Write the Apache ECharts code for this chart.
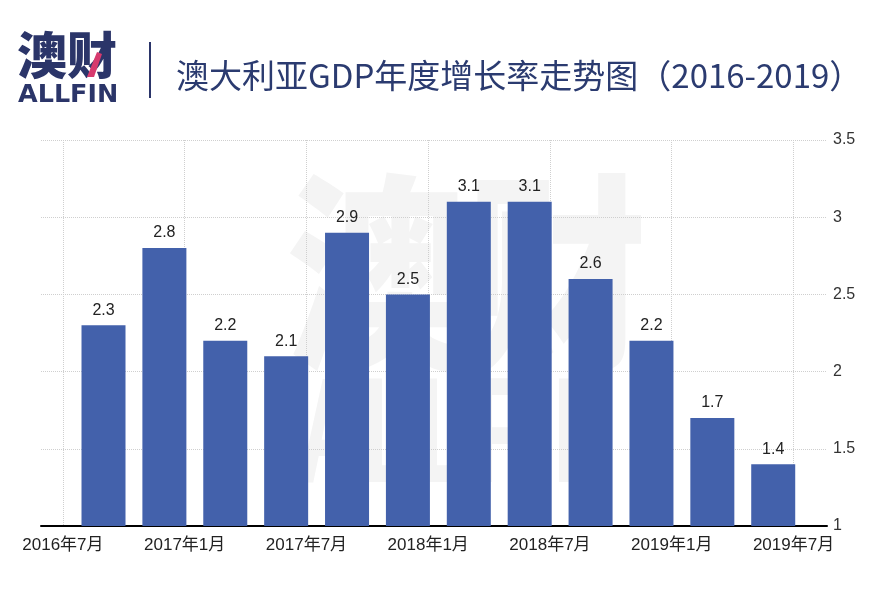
<!DOCTYPE html>
<html><head><meta charset="utf-8">
<script src="https://cdn.jsdelivr.net/npm/echarts@6/dist/echarts.min.js"></script>
<style>html,body{margin:0;padding:0;background:#fff}#c{width:886px;height:609px}</style>
</head><body><div id="c"></div>
<script>
// Data
const quarters = ['2016-09','2016-12','2017-03','2017-06','2017-09','2017-12','2018-03','2018-06','2018-09','2018-12','2019-03','2019-06'];
const growth = [2.3, 2.8, 2.2, 2.1, 2.9, 2.5, 3.1, 3.1, 2.6, 2.2, 1.7, 1.4];
const tickMonths = ['2016-07','2017-01','2017-07','2018-01','2018-07','2019-01','2019-07'];
const titleText = '澳大利亚GDP年度增长率走势图（2016-2019）';

const FONT = "'Liberation Sans','Noto Sans CJK SC',sans-serif";
const NAVY = '#2b3569';
function monthIndex(s){ const p = s.split('-'); return (+p[0]-2016)*12 + (+p[1]-7); }
function monthLabel(v){ const y = 2016 + Math.floor((v+6)/12); const m = ((v+6)%12+12)%12+1; return y+'年'+m+'月'; }
const tickIdx = tickMonths.map(monthIndex);
const barData = quarters.map((q,i)=>[monthIndex(q), growth[i]]);

const chart = echarts.init(document.getElementById('c'), null, {renderer:'canvas'});
chart.setOption({
  animation:false,
  backgroundColor:'#fff',
  title:{text:titleText,left:171,top:54,textStyle:{fontFamily:"'Noto Sans CJK SC',sans-serif",fontSize:33,fontWeight:'normal',color:'#2b3b70'}},
  grid:{left:41,right:59,top:140,bottom:83,containLabel:false},
  xAxis:{type:'value',min:-1.08,max:37.65,
    axisLine:{show:true,onZero:false,lineStyle:{color:'#000',width:2}},
    axisTick:{show:false,customValues:tickIdx},
    axisLabel:{customValues:tickIdx,formatter:monthLabel,fontFamily:FONT,fontSize:17,color:'#222',margin:11},
    splitLine:{show:true,lineStyle:{type:'dotted',color:'#cfcfcf',width:1}}
  },
  yAxis:{type:'value',position:'right',min:1,max:3.5,interval:0.5,
    axisLine:{show:false},axisTick:{show:false},
    axisLabel:{fontFamily:FONT,fontSize:16,color:'#333',margin:6},
    splitLine:{show:true,lineStyle:{type:'dotted',color:'#cfcfcf',width:1}}
  },
  graphic:[
    {type:'text',left:286,top:168,z:-1,silent:true,scaleX:0.86,style:{text:'澳财',fontSize:210,fontWeight:900,fontFamily:"'Noto Sans CJK SC',sans-serif",fill:'#f4f4f4'}},
    {type:'text',left:298,top:366,z:-1,silent:true,scaleX:0.6,style:{text:'ALLFIN',fontSize:150,fontWeight:'bold',fontFamily:"'Liberation Sans',sans-serif",fill:'#f4f4f4'}},
    {type:'text',left:17,top:30,style:{text:'澳财',fontSize:50,fontWeight:900,fontFamily:"'Noto Sans CJK SC',sans-serif",fill:NAVY}},
    {type:'text',left:18,top:84,scaleX:1.06,style:{text:'ALLFIN',fontSize:24,fontWeight:'bold',fontFamily:"'DejaVu Sans',sans-serif",fill:NAVY}},
    {type:'polygon',shape:{points:[[97,52],[102,54],[94,77],[87,77]]},style:{fill:'#d63a6e'}},
    {type:'rect',shape:{x:149,y:42,width:2,height:56},style:{fill:NAVY}}
  ],
  series:[{type:'bar',data:barData,barWidth:44,itemStyle:{color:'#4361ab'},
    label:{show:true,position:'top',distance:7,fontFamily:FONT,fontSize:16,color:'#222'}}]
});
</script></body></html>
